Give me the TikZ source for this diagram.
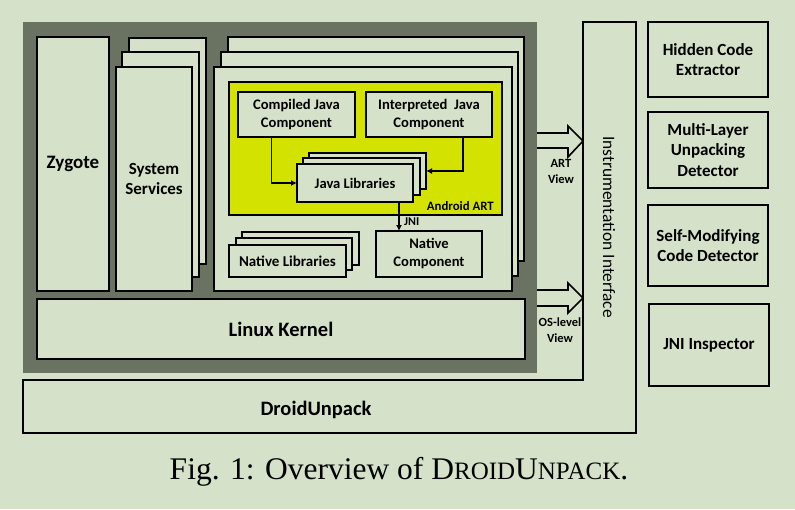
\documentclass[tikz,border=0pt]{standalone}
\usepackage{fontspec}
\setmainfont{Carlito}
\newfontfamily\capfont{Liberation Serif}
\usetikzlibrary{arrows.meta}
\definecolor{bgc}{RGB}{213,226,201}
\definecolor{grayc}{RGB}{106,114,98}
\definecolor{artc}{RGB}{212,226,0}
\tikzset{
  box/.style={draw=black, line width=1.6pt, fill=bgc, inner sep=0pt, outer sep=0pt, align=center},
  conn/.style={line width=1.5pt, -{Latex[length=6pt,width=6pt]}},
  blockarrow/.style={draw=black, line width=1.6pt, fill=bgc},
  fa/.style={font=\bfseries\fontsize{19}{22}\selectfont},
  fb/.style={font=\bfseries\fontsize{17}{20}\selectfont},
  fk/.style={font=\bfseries\fontsize{20.5}{22}\selectfont},
  fc/.style={font=\bfseries\fontsize{14.6}{18}\selectfont},
  fd/.style={font=\bfseries\fontsize{17}{20.8}\selectfont},
  fe/.style={font=\bfseries\fontsize{12.5}{16}\selectfont},
}
\begin{document}
\begin{tikzpicture}[x=1pt,y=-1pt]
\useasboundingbox (0,0) rectangle (795,509);
\fill[bgc] (0,0) rectangle (795,509);
% gray android frame
\node[fill=grayc, inner sep=0pt, outer sep=0pt, minimum width=514pt, minimum height=351pt] (gray) at (280,197.5) {};
% DroidUnpack L-shape
\draw[line width=1.6pt, fill=bgc] (23,380) -- (583,380) -- (583,22) -- (636,22) -- (636,433) -- (23,433) -- cycle;
\node[fk] (du) at (316,410) {DroidUnpack};
\node[font=\fontsize{17.4}{20}\selectfont, rotate=-90] (instr) at (609,227) {Instrumentation Interface};
% Zygote
\node[box, fa, minimum width=72pt, minimum height=254pt] (zyg) at (73,164) {Zygote};
% System services stack
\node[box, minimum width=77pt, minimum height=226pt] (ssb) at (167.5,151) {};
\node[box, minimum width=77pt, minimum height=225pt] (ssm) at (160.5,164.5) {};
\node[box, fb, minimum width=76pt, minimum height=224pt] (ssf) at (154,179) {System\\Services};
% App stack
\node[box, minimum width=296pt, minimum height=224pt] (appb) at (376,149) {};
\node[box, minimum width=297pt, minimum height=224pt] (appm) at (369.5,164) {};
\node[box, minimum width=298pt, minimum height=224pt] (appf) at (363,179) {};
% Android ART
\node[box, fill=artc, minimum width=273pt, minimum height=133pt] (art) at (365.5,148.5) {};
\node[anchor=south east, inner sep=0pt, font=\bfseries\fontsize{12.8}{14}\selectfont] (artlbl) at ([xshift=-8pt,yshift=4pt]art.south east) {Android ART};
\node[box, fc, minimum width=117pt, minimum height=45pt] (cjc) at (296.5,114.5) {Compiled Java\\Component};
\node[box, fc, minimum width=126pt, minimum height=45pt] (ijc) at (429,114.5) {Interpreted~ Java\\Component};
\node[box, minimum width=117pt, minimum height=36pt] (jlb) at (367.5,171) {};
\node[box, minimum width=117pt, minimum height=37pt] (jlm) at (361.5,176.5) {};
\node[box, fc, minimum width=116pt, minimum height=38pt] (jlf) at (355,183) {Java Libraries};
% native
\node[box, fc, minimum width=106pt, minimum height=46pt] (nc) at (429,254) {Native\\Component};
\node[box, minimum width=117pt, minimum height=33pt] (nlb) at (300.5,248.5) {};
\node[box, minimum width=116pt, minimum height=32pt] (nlm) at (294,254) {};
\node[box, font=\bfseries\fontsize{15}{18}\selectfont, minimum width=117pt, minimum height=32pt] (nlf) at (287.5,261) {Native Libraries};
% connectors
\draw[conn] ([xshift=-25pt]cjc.south) |- (jlf.west);
\draw[conn] ([xshift=34pt]ijc.south) |- (jlb.east);
\coordinate (jnis) at ([xshift=44pt]jlf.south);
\draw[conn] (jnis) -- (jnis |- nc.north);
\node[anchor=west, inner sep=0pt, font=\bfseries\fontsize{12}{14}\selectfont] (jni) at (404,222) {JNI};
% Linux kernel
\node[box, fk, minimum width=488pt, minimum height=60pt] (lk) at (281,329) {Linux Kernel};
% block arrows
\draw[blockarrow] (537,133) -- (568,133) -- (568,126) -- (583,141) -- (568,157) -- (568,148) -- (537,148);
\node[fe, align=center] (artview) at (561,171) {ART\\View};
\draw[blockarrow] (537,290) -- (568,290) -- (568,283) -- (583,298) -- (568,313) -- (568,306) -- (537,306);
\node[fe, align=center, inner sep=0pt] (osview) at (560,330) {OS-level\\View};
% right modules
\node[box, fd, minimum width=120pt, minimum height=75pt] (hce) at (708,59.5) {Hidden Code\\Extractor};
\node[box, fd, minimum width=120pt, minimum height=76pt] (mlu) at (708,150) {Multi-Layer\\Unpacking\\Detector};
\node[box, fd, minimum width=120pt, minimum height=81pt] (smc) at (708,245.5) {Self-Modifying\\Code Detector};
\node[box, fd, minimum width=120pt, minimum height=82pt] (jnii) at (709,345) {JNI Inspector};
% caption
\node[font=\capfont\fontsize{31.5}{34}\selectfont] (cap) at (399,472) {Fig. 1: Overview of D{\fontsize{25}{28}\selectfont ROID}U{\fontsize{25}{28}\selectfont NPACK}.};
\end{tikzpicture}
\end{document}
